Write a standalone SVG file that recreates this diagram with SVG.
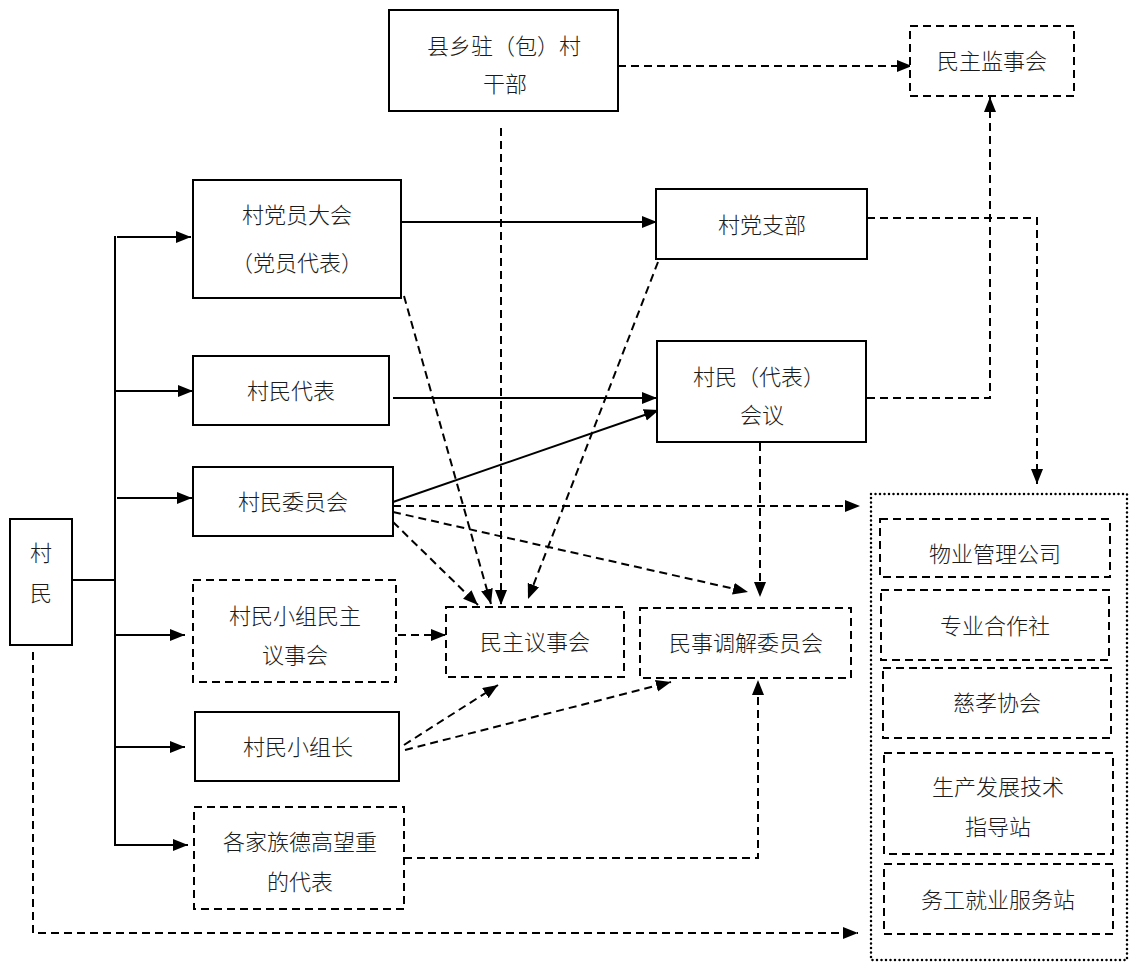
<svg xmlns="http://www.w3.org/2000/svg" width="1129" height="963" viewBox="0 0 1129 963">
<style>
.box{fill:#fff;stroke:#000;stroke-width:2}
.dbox{fill:#fff;stroke:#000;stroke-width:2;stroke-dasharray:8 5}
.dot{fill:none;stroke:#000;stroke-width:2.5;stroke-dasharray:0 4.5;stroke-linecap:round}
.t{font-family:"Noto Sans CJK SC","Noto Sans",sans-serif;font-size:22px;font-weight:300;text-anchor:middle;fill:#1a1a1a}
.sl{fill:none;stroke:#000;stroke-width:2}
.dl{fill:none;stroke:#000;stroke-width:2;stroke-dasharray:8 5}
</style>
<defs>
<marker id="a" markerUnits="userSpaceOnUse" markerWidth="18" markerHeight="14" refX="15" refY="6" orient="auto">
<path d="M0,0 L15,6 L0,12 z" fill="#000"/>
</marker>
</defs>
<rect width="1129" height="963" fill="#fff"/>

<g id="connectors">
<path class="sl" d="M72,580 H115" stroke-width="3"/>
<path class="sl" d="M115,236 V846"/>
<path class="sl" d="M117,237 H191" marker-end="url(#a)"/>
<path class="sl" d="M115,391 H193" marker-end="url(#a)"/>
<path class="sl" d="M117,498 H192" marker-end="url(#a)"/>
<path class="sl" d="M115,635 H185" marker-end="url(#a)"/>
<path class="sl" d="M115,747 H185" marker-end="url(#a)"/>
<path class="sl" d="M115,845 H188" marker-end="url(#a)"/>
<path class="dl" d="M33,652 V933 H858" marker-end="url(#a)"/>
<path class="dl" d="M618,66 H912" marker-end="url(#a)"/>
<path class="dl" d="M501,128 V605" marker-end="url(#a)"/>
<path class="sl" d="M401,222 H657" marker-end="url(#a)"/>
<path class="dl" d="M404,296 L491,604" marker-end="url(#a)"/>
<path class="dl" d="M658,262 L528,599" marker-end="url(#a)"/>
<path class="dl" d="M867,218 H1037 V484" marker-end="url(#a)"/>
<path class="sl" d="M393,398 H657" marker-end="url(#a)"/>
<path class="dl" d="M867,398 H990 V97" marker-end="url(#a)"/>
<path class="dl" d="M760,443 V597" marker-end="url(#a)"/>
<path class="sl" d="M393,502 L659,410" marker-end="url(#a)"/>
<path class="dl" d="M393,506 H860" marker-end="url(#a)"/>
<path class="dl" d="M393,512 L748,592" marker-end="url(#a)"/>
<path class="dl" d="M393,522 L478,605" marker-end="url(#a)"/>
<path class="dl" d="M398,635 H446" marker-end="url(#a)"/>
<path class="dl" d="M404,745 L498,685" marker-end="url(#a)"/>
<path class="dl" d="M405,750 L671,682" marker-end="url(#a)"/>
<path class="dl" d="M404,858 H758 V680" marker-end="url(#a)"/>
</g>

<g id="n-cunmin"><rect class="box" x="10" y="519" width="62" height="126"/>
<text class="t" x="41" y="561">村</text><text class="t" x="41" y="601">民</text></g>

<g id="n-xianxiang"><rect class="box" x="389" y="10" width="229" height="101"/>
<text class="t" x="504" y="54">县乡驻（包）村</text><text class="t" x="505" y="92">干部</text></g>

<g id="n-jianshi"><rect class="dbox" x="910" y="26" width="164" height="70"/>
<text class="t" x="992" y="69">民主监事会</text></g>

<g id="n-dangyuan"><rect class="box" x="193" y="180" width="208" height="118"/>
<text class="t" x="297" y="223">村党员大会</text><text class="t" x="297" y="271">（党员代表）</text></g>

<g id="n-zhibu"><rect class="box" x="656" y="189" width="211" height="70"/>
<text class="t" x="762" y="233">村党支部</text></g>

<g id="n-daibiao"><rect class="box" x="193" y="356" width="196" height="69"/>
<text class="t" x="291" y="399">村民代表</text></g>

<g id="n-huiyi"><rect class="box" x="657" y="341" width="209" height="101"/>
<text class="t" x="759" y="385">村民（代表）</text><text class="t" x="762" y="423">会议</text></g>

<g id="n-weiyuanhui"><rect class="box" x="193" y="467" width="200" height="69"/>
<text class="t" x="293" y="510">村民委员会</text></g>

<g id="n-xiaozuyishi"><rect class="dbox" x="193" y="580" width="203" height="102"/>
<text class="t" x="295" y="624">村民小组民主</text><text class="t" x="295" y="663">议事会</text></g>

<g id="n-xiaozuzhang"><rect class="box" x="195" y="712" width="204" height="69"/>
<text class="t" x="298" y="755">村民小组长</text></g>

<g id="n-jiazu"><rect class="dbox" x="194" y="807" width="210" height="102"/>
<text class="t" x="300" y="850">各家族德高望重</text><text class="t" x="300" y="890">的代表</text></g>

<g id="n-yishihui"><rect class="dbox" x="446" y="607" width="178" height="70"/>
<text class="t" x="535" y="650">民主议事会</text></g>

<g id="n-tiaojie"><rect class="dbox" x="640" y="608" width="211" height="70"/>
<text class="t" x="746" y="651">民事调解委员会</text></g>

<g id="n-right">
<rect class="dot" x="871" y="494" width="256" height="466"/>
</g>
<g id="n-wuye"><rect class="dbox" x="880" y="519" width="230" height="58"/>
<text class="t" x="995" y="562">物业管理公司</text></g>
<g id="n-hezuoshe"><rect class="dbox" x="881" y="590" width="228" height="70"/>
<text class="t" x="995" y="634">专业合作社</text></g>
<g id="n-cixiao"><rect class="dbox" x="883" y="668" width="228" height="70"/>
<text class="t" x="997" y="711">慈孝协会</text></g>
<g id="n-jishu"><rect class="dbox" x="884" y="753" width="229" height="101"/>
<text class="t" x="998" y="795">生产发展技术</text><text class="t" x="998" y="835">指导站</text></g>
<g id="n-wugong"><rect class="dbox" x="884" y="864" width="229" height="70"/>
<text class="t" x="998" y="908">务工就业服务站</text></g>
</svg>
